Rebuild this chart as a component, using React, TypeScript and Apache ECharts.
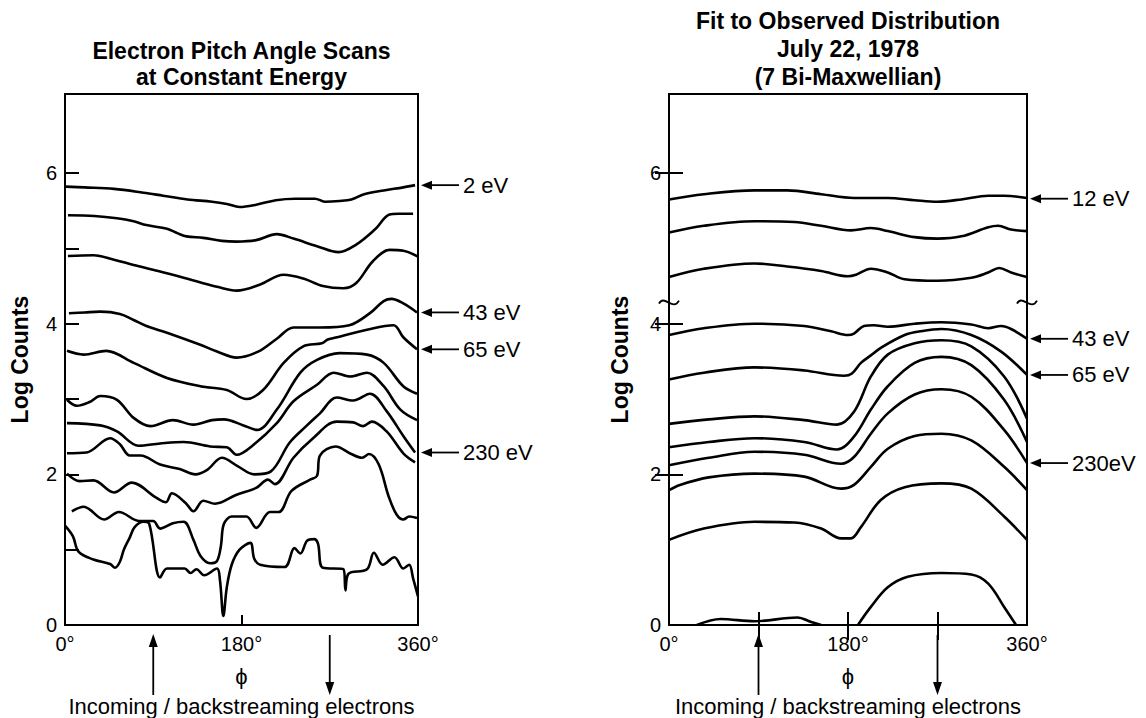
import React, { useEffect, useRef } from 'react';
import * as echarts from 'echarts';

const FONT = '"Liberation Sans", Arial, Helvetica, sans-serif';

// ---------- Left panel: Electron pitch angle scans (phi in degrees, log counts) ----------
const scan2eV = [[1,5.82],[20,5.81],[50,5.79],[80,5.74],[100,5.70],[125,5.65],[150,5.62],[165,5.59],[178,5.55],[195,5.58],[215,5.64],[235,5.66],[255,5.66],[265,5.62],[280,5.63],[292,5.65],[305,5.72],[325,5.77],[345,5.81],[357,5.84]];
const scanB = [[3,5.44],[30,5.43],[53,5.40],[70,5.36],[83,5.31],[104,5.26],[115,5.20],[124,5.16],[141,5.14],[160,5.10],[175,5.09],[195,5.11],[216,5.19],[233,5.13],[257,5.03],[279,4.95],[297,5.05],[316,5.25],[331,5.45],[340,5.46],[355,5.46]];
const scanC = [[3,4.90],[29,4.91],[50,4.85],[70,4.78],[95,4.70],[121,4.61],[140,4.54],[155,4.49],[175,4.44],[199,4.52],[223,4.65],[243,4.60],[263,4.50],[284,4.47],[297,4.54],[314,4.83],[331,4.98],[345,4.97],[360,4.89]];
const scan43eV = [[4,4.14],[20,4.15],[36,4.16],[56,4.13],[70,4.05],[83,3.97],[104,3.88],[138,3.72],[155,3.63],[175,3.55],[197,3.63],[216,3.80],[233,3.95],[260,3.95],[290,3.98],[311,4.14],[325,4.30],[333,4.33],[345,4.27],[359,4.15]];
const scan65eV = [[2,3.64],[19,3.59],[42,3.64],[70,3.48],[104,3.28],[138,3.17],[165,3.12],[185,3.00],[202,3.12],[223,3.48],[243,3.70],[262,3.74],[268,3.79],[274,3.81],[308,3.92],[335,3.98],[345,3.82],[359,3.66]];
const scanF = [[2,2.99],[12,2.91],[25,2.96],[36,3.04],[53,2.99],[70,2.75],[87,2.64],[110,2.72],[131,2.66],[150,2.72],[162,2.73],[182,2.65],[196,2.59],[216,2.86],[240,3.35],[257,3.52],[280,3.61],[308,3.59],[325,3.48],[345,3.17],[359,3.07]];
const scanG = [[2,2.68],[36,2.65],[53,2.57],[75,2.38],[97,2.41],[121,2.43],[148,2.37],[165,2.36],[175,2.26],[192,2.39],[216,2.68],[233,2.97],[257,3.19],[274,3.35],[291,3.30],[308,3.35],[325,3.17],[342,2.86],[359,2.72]];
const scan230eV = [[2,2.28],[22,2.29],[46,2.48],[56,2.40],[66,2.25],[77,2.25],[97,2.13],[117,2.07],[133,2.00],[145,2.06],[160,2.22],[176,2.11],[193,2.00],[210,2.04],[229,2.42],[246,2.64],[260,2.81],[277,3.02],[294,2.98],[311,3.07],[328,2.84],[345,2.51],[357,2.29]];
const scanI = [[2,2.01],[15,1.91],[29,1.92],[50,1.76],[68,1.89],[93,1.69],[103,1.63],[109,1.75],[123,1.62],[131,1.51],[141,1.65],[153,1.61],[175,1.73],[195,1.82],[207,1.93],[214,1.87],[233,2.22],[253,2.48],[277,2.70],[294,2.69],[304,2.64],[313,2.70],[328,2.57],[345,2.28],[357,2.16]];
const scanJ = [[7,1.51],[19,1.57],[40,1.40],[55,1.50],[76,1.38],[90,1.38],[97,1.28],[110,1.35],[121,1.37],[131,1.13],[138,0.92],[148,0.82],[155,0.85],[159,1.05],[162,1.34],[170,1.44],[185,1.44],[195,1.29],[209,1.50],[218,1.50],[231,1.78],[250,1.93],[257,1.98],[260,2.25],[276,2.37],[292,2.27],[303,2.22],[310,2.27],[320,2.13],[330,1.71],[338,1.47],[345,1.40],[351,1.44],[359,1.42]];
const scanK = [[0,1.32],[8,1.18],[14,0.97],[29,0.87],[46,0.81],[51,0.76],[56,0.84],[60,1.00],[66,1.16],[71,1.30],[80,1.37],[86,1.34],[97,0.63],[104,0.75],[122,0.75],[128,0.69],[134,0.74],[142,0.66],[155,0.75],[158,0.60],[161.5,0.12],[165,0.50],[170,0.80],[178,1.00],[189,1.09],[193,0.88],[199,0.80],[224,0.77],[234,1.02],[240,0.95],[247,1.12],[254,1.14],[258,1.08],[263,0.76],[284,0.74],[286,0.46],[289,0.68],[308,0.74],[315,0.96],[324,0.80],[336,0.90],[345,0.75],[351,0.80],[355,0.62],[360,0.38]];

const leftScans = [scan2eV, scanB, scanC, scan43eV, scan65eV, scanF, scanG, scan230eV, scanI, scanJ, scanK];

// ---------- Right panel: 7 bi-Maxwellian fit ----------
const fit12eV = [[0,5.65],[35,5.72],[86,5.77],[119,5.77],[153,5.72],[186,5.67],[220,5.67],[247,5.64],[270,5.62],[294,5.65],[321,5.70],[337,5.70],[360,5.67]];
const fitB = [[0,5.21],[35,5.30],[86,5.36],[126,5.35],[153,5.30],[183,5.24],[203,5.27],[220,5.23],[247,5.15],[270,5.13],[294,5.16],[321,5.28],[331,5.30],[344,5.25],[360,5.23]];
const fitC = [[0,4.62],[35,4.73],[86,4.80],[119,4.76],[153,4.70],[180,4.63],[188,4.65],[203,4.73],[220,4.68],[237,4.59],[270,4.57],[304,4.61],[321,4.68],[332,4.74],[344,4.68],[360,4.62]];
const fit43eV = [[0,3.85],[35,3.94],[86,4.00],[136,3.97],[163,3.90],[180,3.85],[186,3.87],[196,3.97],[206,3.98],[220,3.96],[247,4.00],[274,4.02],[304,3.99],[321,3.94],[334,3.97],[344,3.93],[360,3.80]];
const fit65eV = [[0,3.26],[35,3.35],[86,3.42],[136,3.38],[176,3.31],[184,3.34],[193,3.48],[203,3.58],[213,3.68],[237,3.85],[253,3.90],[274,3.93],[304,3.85],[334,3.63],[360,3.32]];
const fitF = [[0,2.67],[40,2.73],[86,2.77],[136,2.72],[169,2.66],[186,2.83],[203,3.30],[220,3.59],[247,3.74],[274,3.78],[304,3.70],[337,3.30],[360,2.74]];
const fitG = [[0,2.36],[40,2.43],[86,2.48],[136,2.43],[169,2.33],[186,2.50],[203,2.86],[220,3.17],[247,3.48],[274,3.56],[304,3.45],[337,2.99],[360,2.43]];
const fit230eV = [[0,2.12],[40,2.22],[86,2.30],[136,2.26],[173,2.14],[186,2.23],[203,2.54],[220,2.81],[247,3.06],[274,3.13],[304,3.03],[337,2.59],[360,2.15]];
const fitI = [[0,1.79],[11,1.86],[40,1.96],[86,2.01],[136,1.97],[173,1.81],[186,1.86],[203,2.10],[220,2.34],[247,2.51],[274,2.54],[304,2.45],[337,2.10],[360,1.79]];
const fitJ = [[0,1.13],[35,1.28],[86,1.37],[126,1.36],[153,1.28],[173,1.15],[183,1.15],[193,1.30],[213,1.66],[237,1.83],[274,1.88],[304,1.81],[337,1.44],[360,1.13]];
const fitK1 = [[28,0],[52,0.08],[86,0.05],[129,0.10],[143,0.04],[153,0]];
const fitK2 = [[190,0],[203,0.24],[220,0.50],[240,0.64],[274,0.69],[304,0.67],[321,0.55],[337,0.24],[349,0]];

const rightFits = [fit12eV, fitB, fitC, fit43eV, fit65eV, fitF, fitG, fit230eV, fitI, fitJ, fitK1, fitK2];

// ---------- Axis ticks & labels ----------
const yLabelValues = [0, 2, 4, 6];
const leftYTicks = [1, 2, 3, 4, 5, 6];
const rightYTicks = [2, 4, 6];
const xLabelValues = [0, 180, 360];
const leftXTicks = [180];
const rightXTicks = [90, 180, 270];

// ---------- Annotations ----------
const leftEnergyLabels = ['2 eV', '43 eV', '65 eV', '230 eV'];
const leftEnergyLevels = [5.84, 4.15, 3.66, 2.29];
const rightEnergyLabels = ['12 eV', '43 eV', '65 eV', '230eV'];
const rightEnergyLevels = [5.66, 3.80, 3.32, 2.15];
const flowAngles = [90, 270]; // incoming (up arrow), backstreaming (down arrow)
const breakLevel = 4.28;
const leftTitle = 'Electron Pitch Angle Scans\nat Constant Energy';
const rightTitle = 'Fit to Observed Distribution\nJuly 22, 1978\n(7 Bi-Maxwellian)';
const bottomCaption = 'Incoming / backstreaming electrons';

const BLACK = '#000';

function lineSeries(data: number[][], xi: number, yi: number) {
  return {
    type: 'line',
    data,
    xAxisIndex: xi,
    yAxisIndex: yi,
    smooth: 0.35,
    showSymbol: false,
    symbol: 'none',
    silent: true,
    lineStyle: { color: BLACK, width: 2.6 },
  };
}

export default function App() {
  const ref = useRef<HTMLDivElement>(null);

  useEffect(() => {
    document.body.style.margin = '0';
    const chart = echarts.init(ref.current as HTMLDivElement, null, { renderer: 'svg' });

    const axisLine = { show: true, lineStyle: { color: BLACK, width: 2 } };
    const labelStyle = { color: BLACK, fontSize: 20, fontFamily: FONT };
    const tickStyle = { color: BLACK, width: 2 };

    const option: any = {
      animation: false,
      backgroundColor: '#fff',
      title: [
        { text: leftTitle, left: 241.5, top: 38, padding: 0, textAlign: 'center', textStyle: { fontFamily: FONT, fontSize: 23, fontWeight: 'bold', color: BLACK, lineHeight: 26 } },
        { text: rightTitle, left: 848, top: 7, padding: 0, textAlign: 'center', textStyle: { fontFamily: FONT, fontSize: 23, fontWeight: 'bold', color: BLACK, lineHeight: 28 } },
      ],
      grid: [
        { left: 65, top: 94, width: 353, height: 531, show: true, borderColor: BLACK, borderWidth: 2, backgroundColor: 'transparent', containLabel: false },
        { left: 669, top: 94, width: 358, height: 531, show: true, borderColor: BLACK, borderWidth: 2, backgroundColor: 'transparent', containLabel: false },
      ],
      xAxis: [
        {
          gridIndex: 0, type: 'value', min: 0, max: 360, interval: 180,
          axisLine, splitLine: { show: false },
          axisTick: { inside: true, length: 10, lineStyle: tickStyle, customValues: leftXTicks },
          axisLabel: { ...labelStyle, margin: 9, customValues: xLabelValues, formatter: (v: number) => v + '°' },
          name: 'ϕ', nameLocation: 'middle', nameGap: 40,
          nameTextStyle: { fontFamily: FONT, fontSize: 22, color: BLACK },
        },
        {
          gridIndex: 1, type: 'value', min: 0, max: 360, interval: 90,
          axisLine, splitLine: { show: false },
          axisTick: { inside: true, length: 13, lineStyle: tickStyle, customValues: rightXTicks },
          axisLabel: { ...labelStyle, margin: 9, customValues: xLabelValues, formatter: (v: number) => v + '°' },
          name: 'ϕ', nameLocation: 'middle', nameGap: 40,
          nameTextStyle: { fontFamily: FONT, fontSize: 22, color: BLACK },
        },
        {
          gridIndex: 1, type: 'value', position: 'top', min: 0, max: 360, interval: 90,
          axisLine, splitLine: { show: false },
          axisTick: { inside: true, length: 15, lineStyle: tickStyle, customValues: rightXTicks },
          axisLabel: { show: false },
        },
      ],
      yAxis: [
        {
          gridIndex: 0, type: 'value', min: 0, max: 7.05, interval: 1,
          axisLine, splitLine: { show: false },
          axisTick: { inside: true, length: 14, lineStyle: tickStyle, customValues: leftYTicks },
          axisLabel: { ...labelStyle, margin: 8, customValues: yLabelValues, formatter: (v: number) => String(v) },
          name: 'Log Counts', nameLocation: 'middle', nameGap: 34, nameRotate: 90,
          nameTextStyle: { fontFamily: FONT, fontSize: 23, fontWeight: 'bold', color: BLACK },
        },
        {
          gridIndex: 1, type: 'value', min: 0, max: 7.05, interval: 1,
          axisLine, splitLine: { show: false },
          axisTick: { inside: true, length: 14, lineStyle: tickStyle, customValues: rightYTicks },
          axisLabel: { ...labelStyle, margin: 8, customValues: yLabelValues, formatter: (v: number) => String(v) },
          name: 'Log Counts', nameLocation: 'middle', nameGap: 38, nameRotate: 90,
          nameTextStyle: { fontFamily: FONT, fontSize: 23, fontWeight: 'bold', color: BLACK },
        },
        {
          gridIndex: 1, type: 'value', position: 'right', min: 0, max: 7.05, interval: 1,
          axisLine, splitLine: { show: false },
          axisTick: { inside: true, length: 14, lineStyle: tickStyle, customValues: rightYTicks },
          axisLabel: { show: false },
        },
      ],
      series: [
        ...leftScans.map((d) => lineSeries(d, 0, 0)),
        ...rightFits.map((d) => lineSeries(d, 1, 1)),
      ],
    };

    chart.setOption(option);

    const g: any[] = [];
    const addEnergyLabels = (gridIndex: number, labels: string[], levels: number[]) => {
      labels.forEach((t, i) => {
        const [px, py] = chart.convertToPixel({ gridIndex }, [360, levels[i]]) as number[];
        const x0 = px + 3;
        g.push({ type: 'line', shape: { x1: x0 + 8, y1: py, x2: x0 + 38, y2: py }, style: { stroke: BLACK, lineWidth: 1.8 }, z: 10 });
        g.push({ type: 'polygon', shape: { points: [[x0, py], [x0 + 11, py - 4.5], [x0 + 11, py + 4.5]] }, style: { fill: BLACK }, z: 10 });
        g.push({ type: 'text', x: x0 + 42, y: py, style: { text: t, fontSize: 22, fontFamily: FONT, fill: BLACK, align: 'left', verticalAlign: 'middle' }, z: 10 });
      });
    };
    addEnergyLabels(0, leftEnergyLabels, leftEnergyLevels);
    addEnergyLabels(1, rightEnergyLabels, rightEnergyLevels);

    [0, 1].forEach((gridIndex) => {
      flowAngles.forEach((a, k) => {
        const [px, ay] = chart.convertToPixel({ gridIndex }, [a, 0]) as number[];
        if (k === 0) {
          g.push({ type: 'line', shape: { x1: px, y1: ay + 20, x2: px, y2: ay + 70 }, style: { stroke: BLACK, lineWidth: 1.8 }, z: 10 });
          g.push({ type: 'polygon', shape: { points: [[px, ay + 9], [px - 4.5, ay + 22], [px + 4.5, ay + 22]] }, style: { fill: BLACK }, z: 10 });
        } else {
          g.push({ type: 'line', shape: { x1: px, y1: ay + 10, x2: px, y2: ay + 58 }, style: { stroke: BLACK, lineWidth: 1.8 }, z: 10 });
          g.push({ type: 'polygon', shape: { points: [[px, ay + 70], [px - 4.5, ay + 57], [px + 4.5, ay + 57]] }, style: { fill: BLACK }, z: 10 });
        }
      });
      const [cx, cy] = chart.convertToPixel({ gridIndex }, [180, 0]) as number[];
      g.push({ type: 'text', x: cx, y: cy + 81, style: { text: bottomCaption, fontSize: 22, fontFamily: FONT, fill: BLACK, align: 'center', verticalAlign: 'middle' }, z: 10 });
    });

    [0, 360].forEach((a) => {
      const [bx, by] = chart.convertToPixel({ gridIndex: 1 }, [a, breakLevel]) as number[];
      g.push({
        type: 'bezierCurve',
        shape: { x1: bx - 10, y1: by + 1, cpx1: bx - 5, cpy1: by - 9, cpx2: bx + 4, cpy2: by + 9, x2: bx + 10, y2: by - 2 },
        style: { stroke: BLACK, lineWidth: 1.8, fill: 'none' },
        z: 10,
      });
    });

    chart.setOption({ graphic: g });

    return () => chart.dispose();
  }, []);

  return (
    <div
      ref={ref}
      style={{ position: 'absolute', left: 0, top: 0, width: 1146, height: 718, background: '#fff' }}
    />
  );
}
